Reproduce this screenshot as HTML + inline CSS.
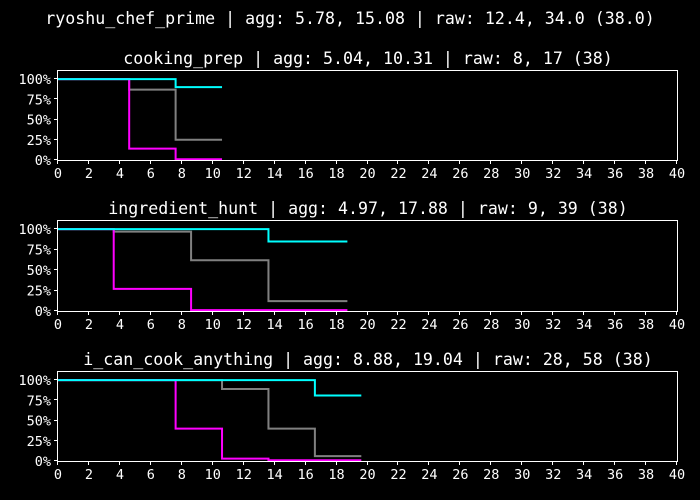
<!DOCTYPE html>
<html><head><meta charset="utf-8"><style>
html,body{margin:0;padding:0;background:#000;}
svg{display:block;font-family:"DejaVu Sans Mono","Liberation Mono",monospace;}
</style></head><body>
<svg id="c" width="700" height="500">
<rect width="700" height="500" fill="#000"/>
<text x="350" y="24" fill="#fff" font-size="16.6" text-anchor="middle">ryoshu_chef_prime | agg: 5.78, 15.08 | raw: 12.4, 34.0 (38.0)</text>
</svg>
<script>
const titles = ["cooking_prep | agg: 5.04, 10.31 | raw: 8, 17 (38)","ingredient_hunt | agg: 4.97, 17.88 | raw: 9, 39 (38)","i_can_cook_anything | agg: 8.88, 19.04 | raw: 28, 58 (38)"];
const xTicks = [0,2,4,6,8,10,12,14,16,18,20,22,24,26,28,30,32,34,36,38,40];
const yTicks = [0,0.25,0.5,0.75,1];
const yTickLabels = ["0%","25%","50%","75%","100%"];
const cyanX = [[0,7.6,10.6],[0,13.6,18.7],[0,16.6,19.6]];
const cyanY = [[1,0.9],[1,0.85],[1,0.81]];
const grayX = [[0,4.6,7.6,10.6],[0,3.6,8.6,13.6,18.7],[0,10.6,13.6,16.6,19.6]];
const grayY = [[1,0.87,0.25],[1,0.97,0.62,0.12],[1,0.89,0.40,0.06]];
const magX = [[0,4.6,7.6,10.6],[0,3.6,8.6,18.7],[0,7.6,10.6,13.6,19.6]];
const magY = [[1,0.14,0.01],[1,0.27,0.01],[1,0.40,0.03,0.01]];
const panels=[{top:71,bot:160},{top:221,bot:311},{top:372,bot:461}];
const L=58,R=677,NS="http://www.w3.org/2000/svg";
const svg=document.getElementById('c');
function mk(t,a){const e=document.createElementNS(NS,t);for(const k in a)e.setAttribute(k,a[k]);svg.appendChild(e);return e;}
panels.forEach((p,i)=>{
  const sx=v=>L+(R-L)*v/40;
  const sy=v=>p.bot-(p.bot-p.top)*v/1.1;
  const t=mk('text',{x:(L+R)/2+0.5,y:p.top-7,fill:'#fff','font-size':16.6,'text-anchor':'middle'});
  t.textContent=titles[i];
  
  
  function step(xs,ys,col,name){
    let d='M'+sx(xs[0])+','+sy(ys[0]);
    for(let k=0;k<ys.length;k++){d+=' H'+sx(xs[k+1]);if(k+1<ys.length)d+=' V'+sy(ys[k+1]);}
    const e=mk('path',{d:d,fill:'none',stroke:col,'stroke-width':2});
    
    
  }
  step(grayX[i],grayY[i],'#808080','gray-series');
  step(magX[i],magY[i],'#ff00ff','magenta-series');
  step(cyanX[i],cyanY[i],'#00ffff','cyan-series');
  const f=mk('rect',{x:L-0.5,y:p.top-0.5,width:R-L+1,height:p.bot-p.top+1,fill:'none',stroke:'#fff','stroke-width':1});
  
  
  xTicks.forEach(v=>{
    const x=Math.round(sx(v))-0.5;
    mk('line',{x1:x,x2:x,y1:p.bot,y2:p.bot+4,stroke:'#fff'});
    const e=mk('text',{x:sx(v),y:p.bot+18,fill:'#fff','font-size':13.5,'text-anchor':'middle'});
    e.textContent=v;
    
    
  });
  yTicks.forEach((v,k)=>{
    const y=Math.round(sy(v))-0.5;
    mk('line',{x1:L-4,x2:L,y1:y,y2:y,stroke:'#fff'});
    const e=mk('text',{x:L-7,y:sy(v)+5,fill:'#fff','font-size':13.5,'text-anchor':'end'});
    e.textContent=yTickLabels[k];
    
    
  });
});
</script>
</body></html>
